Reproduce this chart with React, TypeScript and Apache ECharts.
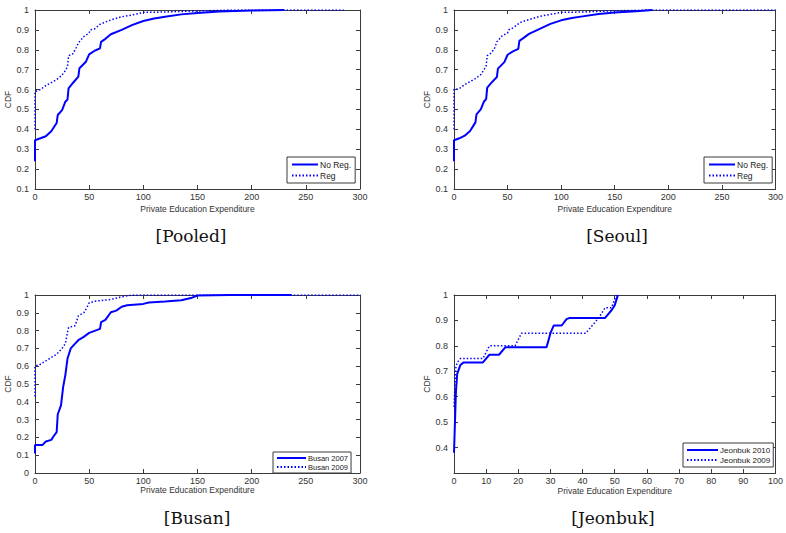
import React, { useEffect, useRef } from "react";
import * as echarts from "echarts";

// ---------- Data ----------
const pooledNoRegX = [0, 0, 5, 10, 15, 20, 21, 25, 28, 30, 31, 35, 40, 41, 47, 50, 55, 60, 61, 65, 70, 80, 90, 100, 110, 120, 135, 150, 170, 200, 230];
const pooledNoRegY = [0.24, 0.345, 0.355, 0.365, 0.39, 0.432, 0.472, 0.497, 0.539, 0.55, 0.606, 0.633, 0.665, 0.707, 0.74, 0.777, 0.795, 0.807, 0.84, 0.855, 0.878, 0.9, 0.925, 0.945, 0.957, 0.966, 0.978, 0.985, 0.992, 0.997, 1.0];
const pooledRegX = [0, 0, 5, 10, 15, 20, 25, 28, 30, 31, 35, 38, 40, 45, 50, 51, 55, 60, 63, 70, 80, 90, 100, 120, 130, 150, 180, 285];
const pooledRegY = [0.4, 0.59, 0.6, 0.62, 0.635, 0.65, 0.673, 0.695, 0.715, 0.77, 0.78, 0.81, 0.834, 0.866, 0.885, 0.9, 0.905, 0.928, 0.935, 0.95, 0.966, 0.975, 0.988, 0.99, 0.992, 0.995, 1.0, 1.0];

const seoulNoRegX = [0, 0, 5, 10, 15, 20, 21, 25, 28, 30, 31, 35, 40, 41, 47, 50, 55, 60, 61, 65, 70, 80, 90, 100, 110, 120, 135, 150, 170, 185];
const seoulNoRegY = [0.24, 0.345, 0.355, 0.368, 0.392, 0.435, 0.475, 0.5, 0.54, 0.552, 0.61, 0.635, 0.663, 0.705, 0.738, 0.775, 0.792, 0.805, 0.845, 0.86, 0.88, 0.905, 0.93, 0.948, 0.96, 0.968, 0.98, 0.987, 0.994, 1.0];
const seoulRegX = [0, 0, 5, 10, 15, 20, 25, 28, 30, 31, 35, 38, 40, 45, 50, 51, 55, 60, 63, 70, 80, 90, 100, 120, 130, 150, 180, 300];
const seoulRegY = [0.4, 0.6, 0.605, 0.625, 0.64, 0.655, 0.675, 0.7, 0.72, 0.77, 0.785, 0.81, 0.84, 0.87, 0.885, 0.9, 0.91, 0.93, 0.94, 0.952, 0.968, 0.978, 0.988, 0.99, 0.992, 0.996, 1.0, 1.0];

const busan2007X = [0, 0, 7, 10, 15, 17, 20, 21, 24, 26, 28, 30, 33, 37, 40, 45, 50, 60, 61, 65, 70, 75, 80, 85, 100, 105, 120, 135, 145, 150, 180, 237];
const busan2007Y = [0.11, 0.158, 0.158, 0.177, 0.186, 0.205, 0.23, 0.33, 0.38, 0.484, 0.55, 0.643, 0.7, 0.727, 0.746, 0.765, 0.787, 0.81, 0.847, 0.86, 0.903, 0.912, 0.934, 0.942, 0.95, 0.958, 0.963, 0.971, 0.985, 0.997, 1.0, 1.0];
const busan2009X = [0, 0, 5, 10, 20, 25, 28, 30, 31, 37, 40, 45, 48, 50, 55, 70, 80, 90, 300];
const busan2009Y = [0.43, 0.6, 0.611, 0.63, 0.667, 0.7, 0.727, 0.79, 0.818, 0.827, 0.883, 0.9, 0.93, 0.956, 0.965, 0.975, 0.99, 1.0, 1.0];

const jeonbuk2010X = [0, 0.3, 0.6, 1, 2, 3, 9, 11, 14, 16, 28.8, 30, 31, 33.5, 35, 36, 47, 49, 50, 51];
const jeonbuk2010Y = [0.38, 0.5, 0.62, 0.69, 0.725, 0.735, 0.735, 0.765, 0.765, 0.795, 0.795, 0.85, 0.88, 0.88, 0.905, 0.91, 0.91, 0.94, 0.96, 1.0];
const jeonbuk2009X = [0, 0.5, 1, 2, 9, 11, 19, 21, 41, 43, 45, 47, 49, 50.5];
const jeonbuk2009Y = [0.56, 0.71, 0.735, 0.75, 0.75, 0.8, 0.8, 0.85, 0.85, 0.88, 0.91, 0.95, 0.95, 1.0];

const panelTitles = ["[Pooled]", "[Seoul]", "[Busan]", "[Jeonbuk]"];
const legendNames = [
  ["No Reg.", "Reg"],
  ["No Reg.", "Reg"],
  ["Busan 2007", "Busan 2009"],
  ["Jeonbuk 2010", "Jeonbuk 2009"],
];

const zip = (xs: number[], ys: number[]) => xs.map((x, i) => [x, ys[i]]);

const BLUE = "#0000ff";
const AXIS = "#3a3a3a";
const SANS = "'Liberation Sans', Arial, sans-serif";

export default function App() {
  const ref = useRef<HTMLDivElement>(null);

  useEffect(() => {
    if (!ref.current) return;
    const chart = echarts.init(ref.current, undefined, { renderer: "svg" });

    const grids = [
      { left: 35, top: 10, width: 325, height: 179 },
      { left: 454, top: 10, width: 324, height: 179 },
      { left: 35, top: 295, width: 325, height: 178 },
      { left: 454, top: 295, width: 324, height: 178 },
    ];
    const xMax = [300, 300, 300, 100];
    const xInt = [50, 50, 50, 10];
    const yMin = [0.1, 0.1, 0, 0.3];
    const nameGapX = [15, 15, 9, 13];

    const fmtY = (v: number) => {
      const r = Math.round(v * 10) / 10;
      return r === 1 ? "1" : r === 0 ? "0" : String(r);
    };

    const xAxis: any[] = [];
    const yAxis: any[] = [];
    grids.forEach((_, gi) => {
      const common = {
        type: "value",
        gridIndex: gi,
        splitLine: { show: false },
        axisLine: { show: true, onZero: false, lineStyle: { color: AXIS, width: 1 } },
        axisTick: { show: true, inside: true, length: 4, lineStyle: { color: AXIS } },
      };
      xAxis.push({
        ...common,
        position: "bottom",
        min: 0,
        max: xMax[gi],
        interval: xInt[gi],
        axisLabel: { fontSize: 9, color: "#333", margin: 3, fontFamily: SANS },
        name: "Private Education Expenditure",
        nameLocation: "middle",
        nameGap: nameGapX[gi],
        nameTextStyle: { fontSize: 8.5, color: "#333", fontFamily: SANS },
      });
      xAxis.push({
        ...common,
        position: "top",
        min: 0,
        max: xMax[gi],
        interval: xInt[gi],
        axisLabel: { show: false },
      });
      yAxis.push({
        ...common,
        position: "left",
        min: yMin[gi],
        max: 1,
        interval: 0.1,
        axisLabel: {
          fontSize: 9,
          color: "#333",
          margin: 6,
          fontFamily: SANS,
          formatter: fmtY,
          showMinLabel: gi !== 3,
        },
        name: "CDF",
        nameLocation: "middle",
        nameGap: 17,
        nameTextStyle: { fontSize: 8.5, color: "#333", fontFamily: SANS },
      });
      yAxis.push({
        ...common,
        position: "right",
        min: yMin[gi],
        max: 1,
        interval: 0.1,
        axisLabel: { show: false },
      });
    });

    const solid = { color: BLUE, width: 2 };
    const dotted = { color: BLUE, width: 1.5, type: [1.5, 2] };
    const mk = (name: string, gi: number, data: number[][], ls: any) => ({
      type: "line",
      name,
      xAxisIndex: gi * 2,
      yAxisIndex: gi * 2,
      data,
      symbol: "none",
      showSymbol: false,
      lineStyle: ls,
      itemStyle: { color: BLUE },
      z: ls === solid ? 3 : 2,
    });

    const series = [
      mk("No Reg.", 0, zip(pooledNoRegX, pooledNoRegY), solid),
      mk("Reg", 0, zip(pooledRegX, pooledRegY), dotted),
      mk("No Reg.", 1, zip(seoulNoRegX, seoulNoRegY), solid),
      mk("Reg", 1, zip(seoulRegX, seoulRegY), dotted),
      mk("Busan 2007", 2, zip(busan2007X, busan2007Y), solid),
      mk("Busan 2009", 2, zip(busan2009X, busan2009Y), dotted),
      mk("Jeonbuk 2010", 3, zip(jeonbuk2010X, jeonbuk2010Y), solid),
      mk("Jeonbuk 2009", 3, zip(jeonbuk2009X, jeonbuk2009Y), dotted),
    ];

    const legendPos = [
      { left: 287, top: 157, itemWidth: 26, itemHeight: 10, itemGap: 2, padding: [3, 4, 3, 4], fontSize: 8.5 },
      { left: 704, top: 157, itemWidth: 26, itemHeight: 10, itemGap: 2, padding: [3, 4, 3, 4], fontSize: 8.5 },
      { left: 273, top: 452, itemWidth: 29, itemHeight: 8, itemGap: 1, padding: [2, 3, 2, 3], fontSize: 7.5 },
      { left: 683, top: 443, itemWidth: 31, itemHeight: 9, itemGap: 2, padding: [3, 3, 3, 3], fontSize: 8 },
    ];
    const legend = legendPos.map((p, gi) => ({
      data: legendNames[gi],
      orient: "vertical",
      left: p.left,
      top: p.top,
      itemWidth: p.itemWidth,
      itemHeight: p.itemHeight,
      itemGap: p.itemGap,
      padding: p.padding,
      selectedMode: false,
      backgroundColor: "#fff",
      borderColor: AXIS,
      borderWidth: 1,
      borderRadius: 0,
      itemStyle: { opacity: 0, borderWidth: 0 },
      textStyle: { fontSize: p.fontSize, color: "#222", fontFamily: SANS, padding: [0, 0, 0, -3] },
    }));

    const titlePos = [
      [191, 236],
      [617, 236],
      [197, 518],
      [613, 518],
    ];
    const graphic = panelTitles.map((t, i) => ({
      type: "text",
      x: titlePos[i][0],
      y: titlePos[i][1],
      style: {
        text: t,
        fill: "#111",
        font: "17px 'DejaVu Serif', serif",
        textAlign: "center",
        textVerticalAlign: "middle",
      },
    }));

    chart.setOption({
      animation: false,
      backgroundColor: "#fff",
      grid: grids,
      xAxis,
      yAxis,
      legend,
      series,
      graphic,
    });

    return () => chart.dispose();
  }, []);

  return (
    <div
      ref={ref}
      style={{ position: "absolute", left: 0, top: 0, width: 786, height: 533, background: "#fff" }}
    />
  );
}
